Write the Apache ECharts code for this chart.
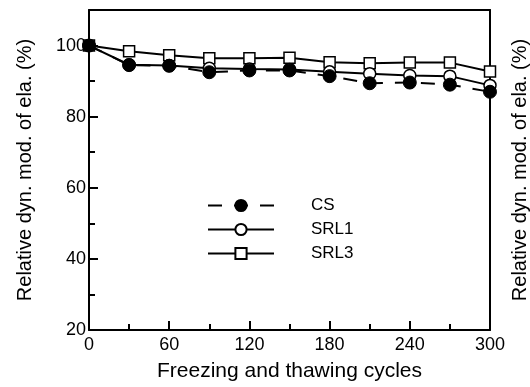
<!DOCTYPE html>
<html>
<head>
<meta charset="utf-8">
<script src="https://cdn.jsdelivr.net/npm/echarts@6/dist/echarts.min.js"></script>
<style>
  html, body { margin: 0; padding: 0; background: #fff; }
  #chart { width: 530px; height: 387px; }
</style>
</head>
<body>
<div id="chart"></div>
<script>
// freezing-thawing cycles
const cycles = [0, 30, 60, 90, 120, 150, 180, 210, 240, 270, 300]
// relative dynamic modulus of elasticity (%)
const csData = [100, 94.5, 94.3, 92.5, 93.0, 93.0, 91.4, 89.4, 89.6, 89.0, 87.0]
const srl1Data = [100, 94.6, 94.4, 93.6, 93.4, 93.3, 92.6, 92.1, 91.6, 91.4, 88.8]
const srl3Data = [100, 98.4, 97.3, 96.4, 96.4, 96.6, 95.3, 95.0, 95.2, 95.2, 92.7]
const seriesNames = ['CS', 'SRL1', 'SRL3']

const font = 'Liberation Sans, Arial, sans-serif'
const pairs = arr => cycles.map((c, i) => [c, arr[i]])

const myChart = echarts.init(document.getElementById('chart'))

const option = {
  animation: false,
  backgroundColor: '#fff',
  grid: {
    left: 89,
    right: 40,
    top: 10,
    bottom: 57,
    outerBoundsMode: 'none'
  },
  legend: {
    orient: 'vertical',
    left: 202,
    top: 192,
    itemWidth: 66,
    itemHeight: 14,
    itemGap: 7,
    data: seriesNames,
    textStyle: {
      fontFamily: font,
      fontSize: 17,
      color: '#000',
      padding: [0, 0, 0, 32]
    }
  },
  xAxis: [
    {
      type: 'value',
      min: 0,
      max: 300,
      interval: 60,
      name: 'Freezing and thawing cycles',
      nameLocation: 'middle',
      nameGap: 31,
      nameTextStyle: { fontFamily: font, fontSize: 21, color: '#000' },
      axisLine: { lineStyle: { color: '#000', width: 2 } },
      axisTick: { inside: true, length: 9, lineStyle: { color: '#000', width: 2 } },
      minorTick: { show: true, splitNumber: 2, length: 6, lineStyle: { color: '#000', width: 2 } },
      axisLabel: { fontFamily: font, fontSize: 18, color: '#000', margin: 6 },
      splitLine: { show: false }
    },
    {
      type: 'value',
      position: 'top',
      min: 0,
      max: 300,
      axisLine: { show: true, onZero: false, lineStyle: { color: '#000', width: 2 } },
      axisTick: { show: false },
      axisLabel: { show: false },
      splitLine: { show: false }
    }
  ],
  yAxis: [
    {
      type: 'value',
      min: 20,
      max: 110,
      interval: 20,
      name: 'Relative dyn. mod. of ela. (%)',
      nameLocation: 'middle',
      nameGap: 54,
      nameTextStyle: { fontFamily: font, fontSize: 20, color: '#000' },
      axisLine: { show: true, lineStyle: { color: '#000', width: 2 } },
      axisTick: { inside: true, length: 9, lineStyle: { color: '#000', width: 2 } },
      minorTick: { show: true, splitNumber: 2, length: 6, lineStyle: { color: '#000', width: 2 } },
      axisLabel: {
        fontFamily: font,
        fontSize: 18,
        color: '#000',
        margin: 3,
        formatter: v => (v > 100 ? '' : v)
      },
      splitLine: { show: false }
    },
    {
      type: 'value',
      position: 'right',
      min: 20,
      max: 110,
      name: 'Relative dyn. mod. of ela. (%)',
      nameLocation: 'middle',
      nameGap: 20,
      nameTextStyle: { fontFamily: font, fontSize: 20, color: '#000' },
      axisLine: { show: true, onZero: false, lineStyle: { color: '#000', width: 2 } },
      axisTick: { show: false },
      axisLabel: { show: false },
      splitLine: { show: false }
    }
  ],
  series: [
    {
      name: 'SRL3',
      type: 'line',
      data: pairs(srl3Data),
      symbol: 'rect',
      symbolSize: 11,
      z: 3,
      lineStyle: { color: '#000', width: 2 },
      itemStyle: { color: '#fff', borderColor: '#000', borderWidth: 1.5 }
    },
    {
      name: 'SRL1',
      type: 'line',
      data: pairs(srl1Data),
      symbol: 'circle',
      symbolSize: 12,
      z: 4,
      lineStyle: { color: '#000', width: 2 },
      itemStyle: { color: '#fff', borderColor: '#000', borderWidth: 1.5 }
    },
    {
      name: 'CS',
      type: 'line',
      data: pairs(csData),
      symbol: 'circle',
      symbolSize: 13,
      z: 5,
      lineStyle: { color: '#000', width: 2, type: [14, 12] },
      itemStyle: { color: '#000', borderColor: '#000', borderWidth: 1 }
    }
  ]
}

myChart.setOption(option)
</script>
</body>
</html>
